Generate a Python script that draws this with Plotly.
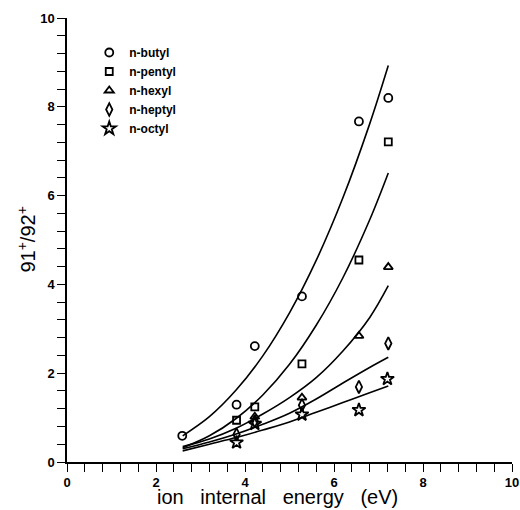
import plotly.graph_objects as go

# measured points
butyl_x = [2.59, 3.81, 4.22, 5.28, 6.56, 7.22]
butyl_y = [0.59, 1.29, 2.61, 3.73, 7.67, 8.20]
pentyl_x = [3.81, 4.22, 5.28, 6.56, 7.22]
pentyl_y = [0.94, 1.24, 2.21, 4.55, 7.21]
hexyl_x = [4.22, 5.28, 6.56, 7.22]
hexyl_y = [1.02, 1.45, 2.84, 4.39]
heptyl_x = [3.81, 4.22, 5.28, 6.56, 7.22]
heptyl_y = [0.62, 0.92, 1.28, 1.69, 2.67]
octyl_x = [3.81, 4.22, 5.28, 6.56, 7.20]
octyl_y = [0.44, 0.86, 1.07, 1.17, 1.87]

# fitted curves
fit_x = [2.6, 3.2, 3.8, 4.4, 5.0, 5.6, 6.2, 6.8, 7.22]
butyl_fit = [0.59, 1.02, 1.62, 2.39, 3.36, 4.54, 5.95, 7.61, 8.93]
pentyl_fit = [0.32, 0.59, 0.98, 1.51, 2.20, 3.08, 4.15, 5.45, 6.51]
hexyl_fit = [0.35, 0.52, 0.76, 1.08, 1.45, 1.90, 2.50, 3.25, 3.97]
heptyl_fit = [0.30, 0.45, 0.63, 0.85, 1.10, 1.42, 1.78, 2.13, 2.36]
octyl_fit = [0.25, 0.40, 0.55, 0.72, 0.90, 1.12, 1.34, 1.56, 1.71]

series = [
    ('n-butyl', butyl_x, butyl_y, butyl_fit, 'circle-open', 8),
    ('n-pentyl', pentyl_x, pentyl_y, pentyl_fit, 'square-open', 7),
    ('n-hexyl', hexyl_x, hexyl_y, hexyl_fit, 'triangle-up-open', 8),
    ('n-heptyl', heptyl_x, heptyl_y, heptyl_fit, 'diamond-tall-open', 9),
    ('n-octyl', octyl_x, octyl_y, octyl_fit, 'star-open', 10),
]

fig = go.Figure()

# fit curves first, markers on top
for name, xs, ys, fit, symbol, size in series:
    fig.add_trace(go.Scatter(
        x=fit_x, y=fit, mode='lines', showlegend=False,
        line=dict(color='black', width=1.6, shape='spline'),
        hoverinfo='skip'
    ))

for name, xs, ys, fit, symbol, size in series:
    fig.add_trace(go.Scatter(
        x=xs, y=ys, mode='markers', name=name,
        marker=dict(symbol=symbol, size=size, color='black',
                    line=dict(color='black', width=1.8))
    ))

axis_common = dict(
    range=[0, 10], automargin=False,
    tick0=0, dtick=2,
    ticks='outside', ticklen=8, tickwidth=1.2, tickcolor='black',
    minor=dict(dtick=0.4, ticks='outside', ticklen=8, tickwidth=1.2, tickcolor='black'),
    showline=True, linecolor='black', linewidth=1.5,
    showgrid=False, zeroline=False,
    tickfont=dict(family='Liberation Sans', size=13, color='black', weight='bold'),
)

fig.update_xaxes(**axis_common)
fig.update_yaxes(**axis_common)

sp = '\u00a0\u00a0'
fig.add_annotation(
    text=f'ion{sp} internal{sp} energy{sp} (eV)',
    xref='paper', yref='paper', x=0.4735, y=-0.107,
    xanchor='center', yanchor='bottom', showarrow=False,
    font=dict(family='Liberation Sans', size=20, color='black')
)
fig.add_annotation(
    text='91<sup>+</sup>/92<sup>+</sup>',
    xref='paper', yref='paper', x=-0.093, y=0.5,
    xanchor='center', yanchor='middle', showarrow=False, textangle=-90,
    font=dict(family='Liberation Sans', size=20, color='black')
)

fig.update_layout(
    width=520, height=510,
    paper_bgcolor='white', plot_bgcolor='white',
    margin=dict(l=67, r=8, t=18, b=48),
    showlegend=True,
    legend=dict(
        x=0.05, y=0.955, xanchor='left', yanchor='top',
        bgcolor='rgba(0,0,0,0)', tracegroupgap=0, itemwidth=30,
        font=dict(family='Liberation Sans', size=12, color='black', weight='bold')
    )
)

fig.write_html("out.html", config={'displayModeBar': False},
               post_script="document.body.style.margin='0px';")
